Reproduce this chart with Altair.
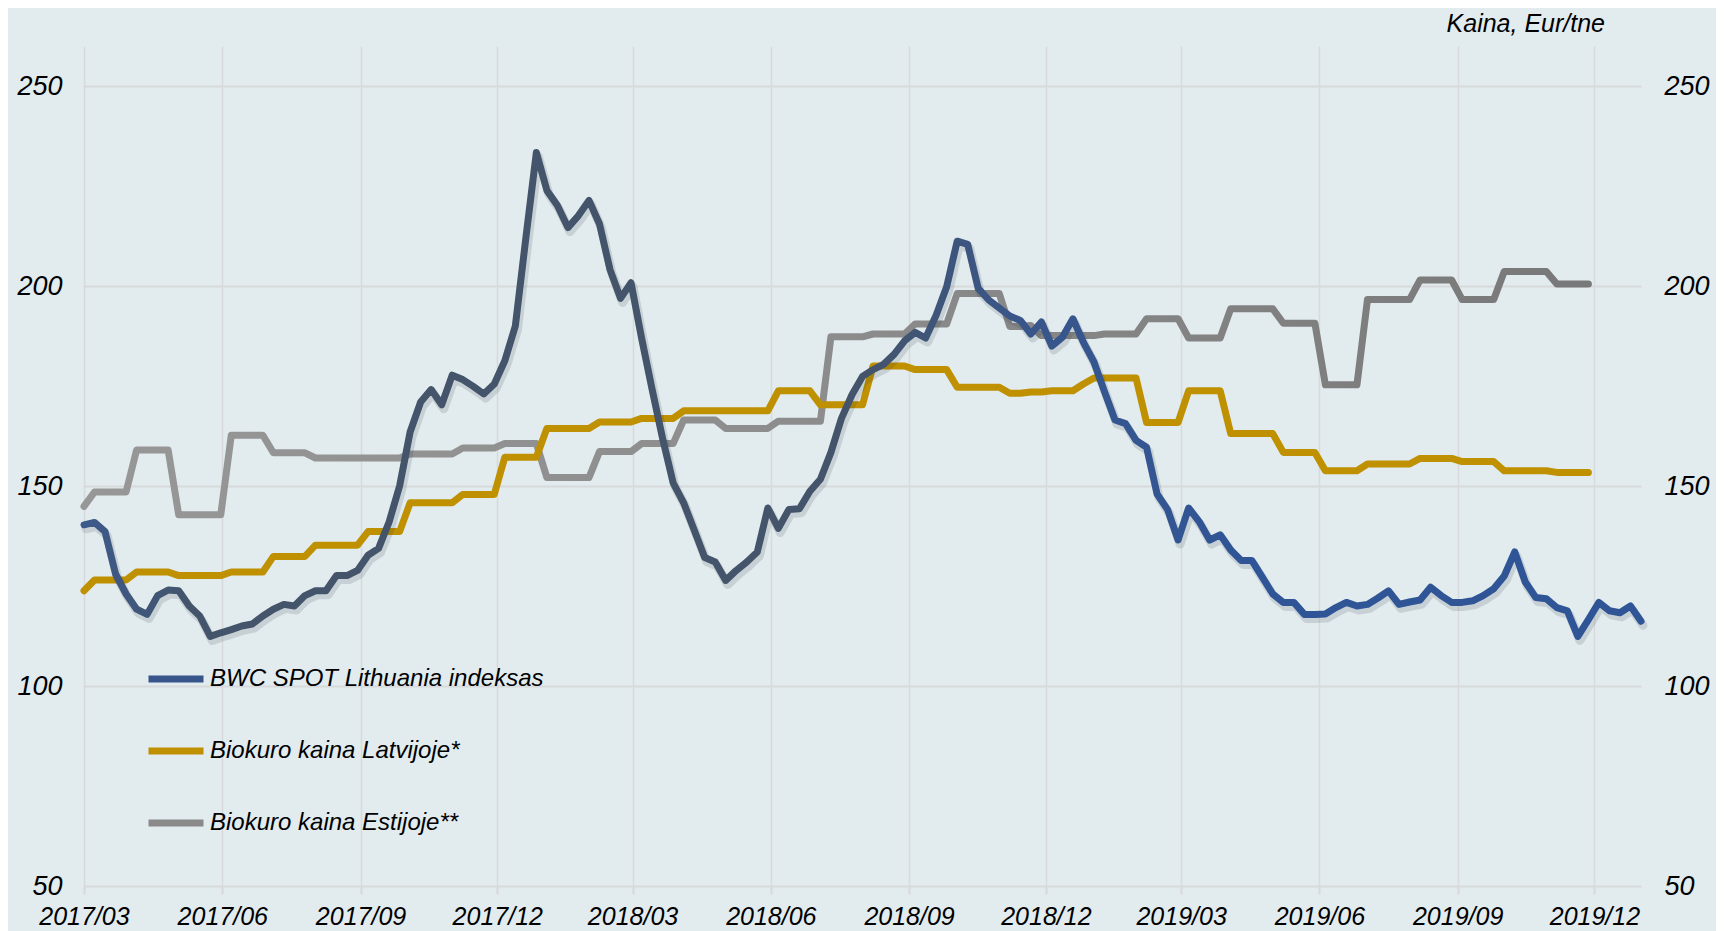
import altair as alt
import pandas as pd

# ---------------- data (weekly observations) ----------------
START_DATE = "2017-03-01"
SERIES = ["BWC SPOT Lithuania indeksas", "Biokuro kaina Latvijoje*", "Biokuro kaina Estijoje**"]
TITLE_TEXT = "Kaina, Eur/tne"

bwc = [
    140.3, 140.9, 138.6, 128.0, 123.0, 119.2, 117.9, 122.6, 124.0, 123.8,
    120.0, 117.5, 112.4, 113.3, 114.1, 115.0, 115.5, 117.5, 119.2, 120.4,
    120.0, 122.6, 123.8, 123.8, 127.6, 127.6, 128.9, 132.7, 134.4, 141.0,
    150.0, 163.5, 171.0, 174.1, 170.3, 177.7, 176.6, 174.9, 173.0, 175.5,
    181.3, 190.0, 212.0, 233.4, 223.9, 220.1, 214.6, 217.6, 221.4, 215.5,
    204.1, 196.9, 200.8, 187.0, 174.2, 161.9, 150.8, 145.8, 139.0, 132.1,
    131.0, 126.4, 128.9, 131.0, 133.5, 144.5, 139.4, 144.1, 144.3, 148.7,
    151.7, 158.4, 166.9, 172.8, 177.4, 179.1, 180.4, 182.9, 186.3, 188.4,
    187.0, 192.7, 199.8, 211.2, 210.4, 199.4, 196.5, 194.5, 192.5, 191.4,
    188.0, 191.0, 185.0, 187.2, 191.8, 185.9, 181.0, 173.6, 166.5, 165.6,
    161.4, 159.7, 148.0, 144.1, 136.5, 144.5, 141.1, 136.5, 137.8, 134.0,
    131.4, 131.4, 127.2, 123.0, 120.9, 120.9, 117.9, 117.9, 118.0, 119.6,
    120.9, 120.0, 120.4, 122.0, 123.8, 120.4, 121.0, 121.5, 124.7, 122.6,
    120.9, 120.9, 121.3, 122.6, 124.3, 127.5, 133.5, 126.0, 122.1, 121.8,
    119.6, 118.8, 112.4, 116.6, 120.9, 118.8, 118.3, 120.0, 116.2,
]

latvia = [
    123.8, 126.5, 126.5, 126.5, 126.5, 128.5, 128.5, 128.5, 128.5, 127.6,
    127.6, 127.6, 127.6, 127.6, 128.5, 128.5, 128.5, 128.5, 132.4, 132.4,
    132.4, 132.4, 135.2, 135.2, 135.2, 135.2, 135.2, 138.6, 138.6, 138.6,
    138.6, 145.8, 145.8, 145.8, 145.8, 145.8, 147.9, 147.9, 147.9, 147.9,
    157.2, 157.2, 157.2, 157.2, 164.4, 164.4, 164.4, 164.4, 164.4, 166.0,
    166.0, 166.0, 166.0, 166.9, 166.9, 166.9, 166.9, 168.8, 168.8, 168.8,
    168.8, 168.8, 168.8, 168.8, 168.8, 168.8, 173.8, 173.8, 173.8, 173.8,
    170.3, 170.3, 170.3, 170.3, 170.3, 180.0, 180.0, 180.0, 180.0, 179.1,
    179.1, 179.1, 179.1, 174.7, 174.7, 174.7, 174.7, 174.7, 173.2, 173.2,
    173.5, 173.5, 173.8, 173.8, 173.8, 175.5, 177.0, 177.0, 177.0, 177.0,
    177.0, 165.9, 165.9, 165.9, 165.9, 173.8, 173.8, 173.8, 173.8, 163.1,
    163.1, 163.1, 163.1, 163.1, 158.4, 158.4, 158.4, 158.4, 153.8, 153.8,
    153.8, 153.8, 155.5, 155.5, 155.5, 155.5, 155.5, 156.9, 156.9, 156.9,
    156.9, 156.1, 156.1, 156.1, 156.1, 153.8, 153.8, 153.8, 153.8, 153.8,
    153.4, 153.4, 153.4, 153.4,
]

estonia = [
    144.9, 148.5, 148.5, 148.5, 148.5, 159.0, 159.0, 159.0, 159.0, 142.8,
    142.8, 142.8, 142.8, 142.8, 162.7, 162.7, 162.7, 162.7, 158.3, 158.3,
    158.3, 158.3, 157.0, 157.0, 157.0, 157.0, 157.0, 157.0, 157.0, 157.0,
    157.0, 158.0, 158.0, 158.0, 158.0, 158.0, 159.5, 159.5, 159.5, 159.5,
    160.6, 160.6, 160.6, 160.6, 152.1, 152.1, 152.1, 152.1, 152.1, 158.6,
    158.6, 158.6, 158.6, 160.6, 160.6, 160.6, 160.6, 166.5, 166.5, 166.5,
    166.5, 164.4, 164.4, 164.4, 164.4, 164.4, 166.2, 166.2, 166.2, 166.2,
    166.2, 187.3, 187.3, 187.3, 187.3, 188.0, 188.0, 188.0, 188.0, 190.5,
    190.5, 190.5, 190.5, 198.1, 198.1, 198.1, 198.1, 198.1, 189.9, 189.9,
    190.1, 187.6, 187.6, 187.6, 187.6, 187.6, 187.6, 188.0, 188.0, 188.0,
    188.0, 191.8, 191.8, 191.8, 191.8, 187.0, 187.0, 187.0, 187.0, 194.3,
    194.3, 194.3, 194.3, 194.3, 190.7, 190.7, 190.7, 190.7, 175.3, 175.3,
    175.3, 175.3, 196.6, 196.6, 196.6, 196.6, 196.6, 201.5, 201.5, 201.5,
    201.5, 196.6, 196.6, 196.6, 196.6, 203.6, 203.6, 203.6, 203.6, 203.6,
    200.5, 200.5, 200.5, 200.5,
]

Y_TICKS = [50, 100, 150, 200, 250]
X_TICKS = [(2017, 3), (2017, 6), (2017, 9), (2017, 12), (2018, 3), (2018, 6),
           (2018, 9), (2018, 12), (2019, 3), (2019, 6), (2019, 9), (2019, 12)]

# ---------------- table ----------------
frames = []
for name, vals in zip(SERIES, [bwc, latvia, estonia]):
    d = pd.date_range(START_DATE, periods=len(vals), freq="7D")
    frames.append(pd.DataFrame({"date": d, "value": vals, "series": name}))
df = pd.concat(frames, ignore_index=True)

FONT = "Liberation Sans"
BG = "#e2ebee"
GRID = "#d7d9da"

x_enc = alt.X(
    "date:T",
    scale=alt.Scale(domain=[alt.DateTime(year=2017, month=3, date=1),
                            alt.DateTime(year=2020, month=1, date=1)]),
    axis=alt.Axis(
        values=[alt.DateTime(year=y, month=m, date=1) for y, m in X_TICKS],
        format="%Y/%m", title=None, grid=True, gridColor=GRID, gridWidth=1.5,
        domain=False, ticks=True, tickColor=GRID, tickSize=8, tickWidth=2,
        labelFont=FONT, labelFontSize=25, labelFontStyle="italic", labelColor="#000000",
        labelPadding=10, labelFlush=False, labelOverlap=False, labelBound=False,
    ),
)

yscale = alt.Scale(domain=[50, 260], nice=False, zero=False)

y_left = alt.Y(
    "value:Q", scale=yscale,
    axis=alt.Axis(
        values=Y_TICKS, orient="left", title=None, grid=True, gridColor=GRID, gridWidth=2,
        domain=False, ticks=False, labelFont=FONT, labelFontSize=27,
        labelFontStyle="italic", labelColor="#000000", labelPadding=22, labelFlush=False,
    ),
)
y_right = alt.Y(
    "value:Q", scale=yscale,
    axis=alt.Axis(
        values=Y_TICKS, orient="right", title=None, grid=False,
        domain=False, ticks=False, labelFont=FONT, labelFontSize=27,
        labelFontStyle="italic", labelColor="#000000", labelPadding=23, labelFlush=False,
    ),
)
y_none = alt.Y("value:Q", scale=yscale, axis=None)

base = alt.Chart(df)

# invisible layer that carries the legend and left axis
legend_layer = base.mark_line(opacity=0, strokeWidth=7).encode(
    x=x_enc, y=y_left,
    color=alt.Color(
        "series:N",
        scale=alt.Scale(domain=SERIES, range=["#37558a", "#bf9000", "#8a8a8a"]),
        legend=alt.Legend(
            title=None, orient="none", legendX=61, legendY=602, direction="vertical",
            symbolType="stroke", symbolSize=3025, symbolStrokeWidth=7, symbolOpacity=1,
            labelFont=FONT, labelFontSize=24, labelFontStyle="italic", labelColor="#000000",
            labelOffset=3, rowPadding=27, labelLimit=0, padding=0,
        ),
    ),
)

line_kw = dict(strokeWidth=7, strokeCap="round", strokeJoin="round")

grey_layer = base.transform_filter(alt.datum.series == SERIES[2]).mark_line(
    color=alt.LinearGradient(
        gradient="linear", x1=0, x2=1, y1=0, y2=0,
        stops=[alt.GradientStop(color="#979797", offset=0),
               alt.GradientStop(color="#8c8c8c", offset=0.5),
               alt.GradientStop(color="#787878", offset=1)],
    ),
    **line_kw,
).encode(x=x_enc, y=y_none)

gold_layer = base.transform_filter(alt.datum.series == SERIES[1]).mark_line(
    color="#bf9000", **line_kw
).encode(x=x_enc, y=y_none)

shadow_layer = base.transform_filter(alt.datum.series == SERIES[0]).mark_line(
    color="#1a2430", opacity=0.13, strokeWidth=9, strokeCap="round", strokeJoin="round",
    xOffset=2, yOffset=4,
).encode(x=x_enc, y=y_none)

blue_layer = base.transform_filter(alt.datum.series == SERIES[0]).mark_line(
    color=alt.LinearGradient(
        gradient="linear", x1=0, x2=1, y1=0, y2=0,
        stops=[alt.GradientStop(color="#3c5a8c", offset=0),
               alt.GradientStop(color="#44546a", offset=0.07),
               alt.GradientStop(color="#44546a", offset=0.5),
               alt.GradientStop(color="#39568a", offset=0.6),
               alt.GradientStop(color="#2f5597", offset=0.75),
               alt.GradientStop(color="#2f5597", offset=1)],
    ),
    **line_kw,
).encode(x=x_enc, y=y_right)

title_layer = alt.Chart(pd.DataFrame({"t": [TITLE_TEXT]})).mark_text(
    align="right", baseline="alphabetic", font=FONT, fontSize=25,
    fontStyle="italic", color="#000000",
).encode(text="t:N", x=alt.value(1521), y=alt.value(-14))

chart = alt.layer(
    legend_layer, grey_layer, gold_layer, shadow_layer, blue_layer, title_layer
).resolve_axis(y="independent").resolve_scale(y="shared").properties(
    width=1557, height=840,
    background=BG,
    padding={"left": 76, "top": 38, "right": 75, "bottom": 45},
    autosize=alt.AutoSizeParams(type="none"),
).configure_view(strokeWidth=0)

chart.save("out.html", embed_options={"renderer": "svg", "actions": False})
